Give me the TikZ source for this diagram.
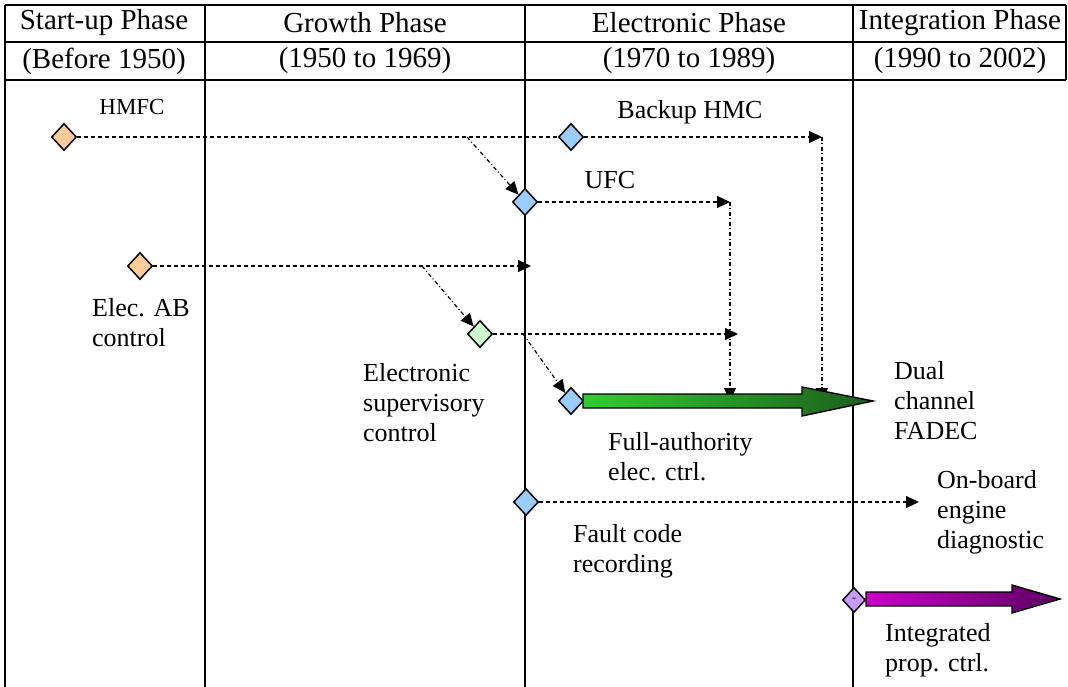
\documentclass[tikz,border=0pt]{standalone}
\usepackage{fontspec}
\setmainfont{Liberation Serif}
\usetikzlibrary{arrows.meta,shapes.geometric}
\definecolor{orangefill}{HTML}{FFCC99}
\definecolor{bluefill}{HTML}{99CCFF}
\definecolor{greenfill}{HTML}{CCFFCC}
\definecolor{purplefill}{HTML}{CC99FF}
\definecolor{gA}{HTML}{33CC33}
\definecolor{gB}{HTML}{1B5E1B}
\definecolor{pA}{HTML}{CC00CC}
\definecolor{pB}{HTML}{5A0060}
\begin{document}
\begin{tikzpicture}[x=1pt,y=-1pt,
  gridline/.style={line width=2pt},
  hdr/.style={font=\fontsize{29}{30}\selectfont, inner sep=0pt},
  lbl/.style={font=\fontsize{26}{30}\selectfont, align=left, inner sep=0pt, anchor=west},
  clbl/.style={font=\fontsize{26}{30}\selectfont, inner sep=0pt},
  dmd/.style={diamond, draw=black, line width=1.5pt, minimum width=25pt, minimum height=27pt, inner sep=0pt},
  dline/.style={dash pattern=on 4pt off 3pt, line width=1.2pt},
  ddline/.style={dash pattern=on 4pt off 2.5pt on 1pt off 2.5pt, line width=1.2pt},
  arrowtip/.style={-{Triangle[length=13pt,width=12pt]}},
  bigarrow/.style={line width=1.4pt, draw=black}
]
\useasboundingbox (0,0) rectangle (1068,687);
% table grid
\draw[gridline] (5,5) -- (1066,5);
\draw[gridline] (5,42) -- (1066,42);
\draw[gridline] (5,80) -- (1066,80);
\draw[gridline] (5,5) -- (5,687);
\draw[gridline] (205,5) -- (205,687);
\draw[gridline] (525,5) -- (525,687);
\draw[gridline] (853,5) -- (853,687);
\draw[gridline] (1066,5) -- (1066,80);
% headers
\node[hdr] (h1) at (104,23) {Start-up Phase};
\node[hdr] (h2) at (365,23) {Growth Phase};
\node[hdr] (h3) at (689,23) {Electronic Phase};
\node[hdr] (h4) at (960,23) {Integration Phase};
\node[hdr] (y1) at (104,61) {(Before 1950)};
\node[hdr] (y2) at (365,61) {(1950 to 1969)};
\node[hdr] (y3) at (689,61) {(1970 to 1989)};
\node[hdr] (y4) at (960,61) {(1990 to 2002)};
% diamonds
\node[dmd, fill=orangefill] (hmfc) at (64,137) {};
\node[dmd, fill=bluefill] (bhmc) at (571,137) {};
\node[dmd, fill=bluefill] (ufc) at (525,202) {};
\node[dmd, fill=orangefill] (eab) at (140,266) {};
\node[dmd, fill=greenfill] (esc) at (480,334) {};
\node[dmd, fill=bluefill] (fa) at (571,401) {};
\node[dmd, fill=bluefill] (fc) at (526,502) {};
\node[dmd, fill=purplefill, minimum width=23pt, minimum height=25pt, font=\fontsize{12}{12}\selectfont] (ipc) at (854,600) {-};
% coordinates
\coordinate (bhmcEnd) at (822,137);
\coordinate (br1) at (467,137);
\coordinate (ufcEnd) at (730,202);
\coordinate (eabEnd) at (531,266);
\coordinate (br2) at (422,266);
\coordinate (escEnd) at (738,334);
\coordinate (br3) at (523,334);
\coordinate (drop1) at (730,401);
\coordinate (drop2) at (822,401);
\coordinate (fcEnd) at (919,502);
% connectors
\draw[dline] (hmfc) -- (bhmc);
\draw[dline, arrowtip] (bhmc) -- (bhmcEnd);
\draw[ddline, arrowtip] (br1) -- (ufc);
\draw[dline, arrowtip] (ufc) -- (ufcEnd);
\draw[dline, arrowtip] (eab) -- (eabEnd);
\draw[ddline, arrowtip] (br2) -- (esc);
\draw[dline, arrowtip] (esc) -- (escEnd);
\draw[ddline, arrowtip] (br3) -- (fa);
\draw[ddline, arrowtip] (ufcEnd) -- (drop1);
\draw[ddline, arrowtip] (bhmcEnd) -- (drop2);
\draw[dline, arrowtip] (fc) -- (fcEnd);
% big arrows
\shadedraw[bigarrow, left color=gA, right color=gB]
  (583,394) -- (802,394) -- (802,387) -- (873,401) -- (802,416) -- (802,408) -- (583,408) -- cycle;
\shadedraw[bigarrow, left color=pA, right color=pB]
  (866,592) -- (1012,592) -- (1012,585) -- (1060,599) -- (1012,613) -- (1012,606) -- (866,606) -- cycle;
% labels
\node[font=\fontsize{23}{26}\selectfont, inner sep=0pt] (tHMFC) at (132,107) {HMFC};
\node[clbl] (tBHMC) at (690,112) {Backup HMC};
\node[clbl] (tUFC) at (610,180) {UFC};
\node[lbl] (tEAB) at (92,323) {Elec. AB\\control};
\node[lbl] (tESC) at (363,403) {Electronic\\supervisory\\control};
\node[lbl] (tFA) at (608,457) {Full-authority\\elec. ctrl.};
\node[lbl] (tDual) at (894,401) {Dual\\channel\\FADEC};
\node[lbl] (tOB) at (937,512) {On-board\\engine\\diagnostic};
\node[lbl] (tFC) at (573,551) {Fault code\\recording};
\node[lbl] (tIPC) at (885,650) {Integrated\\prop. ctrl.};
\end{tikzpicture}
\end{document}
